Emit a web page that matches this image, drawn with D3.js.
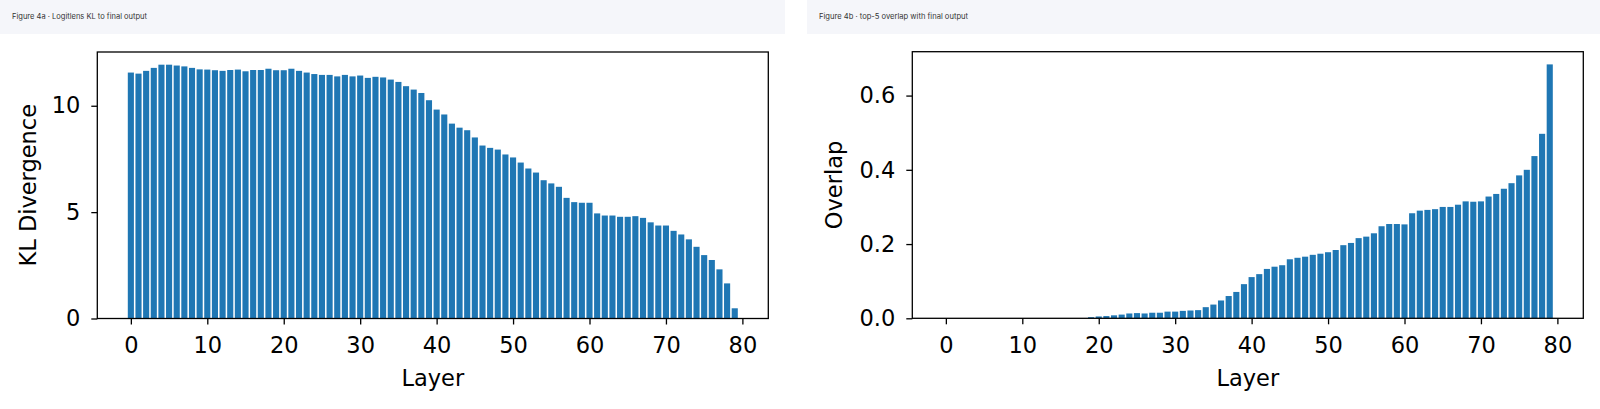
<!DOCTYPE html>
<html>
<head>
<meta charset="utf-8">
<script src="https://cdn.jsdelivr.net/npm/d3@7"></script>
<style>
  html, body { margin: 0; padding: 0; background: #fff; }
  svg { display: block; }
</style>
</head>
<body>
<div id="chart"></div>
<script>
// KL divergence of logit-lens output vs final output, per layer (0..79)
var klValues = [
  11.56, 11.51, 11.64, 11.78, 11.93, 11.93, 11.89, 11.85, 11.78, 11.71,
  11.70, 11.67, 11.64, 11.68, 11.70, 11.62, 11.68, 11.68, 11.74, 11.67,
  11.67, 11.74, 11.64, 11.56, 11.49, 11.45, 11.45, 11.38, 11.45, 11.38,
  11.42, 11.31, 11.36, 11.33, 11.23, 11.12, 10.92, 10.76, 10.60, 10.26,
  9.82, 9.59, 9.16, 8.97, 8.85, 8.51, 8.13, 8.02, 7.94, 7.71,
  7.57, 7.33, 7.05, 6.86, 6.50, 6.35, 6.19, 5.67, 5.47, 5.44,
  5.44, 4.94, 4.84, 4.84, 4.78, 4.78, 4.81, 4.73, 4.52, 4.37,
  4.37, 4.12, 3.95, 3.72, 3.37, 2.98, 2.75, 2.31, 1.65, 0.48
];

// top-5 overlap with final output, per layer (0..79)
var overlapValues = [
  0, 0, 0, 0, 0, 0, 0, 0, 0, 0,
  0, 0, 0, 0, 0, 0, 0, 0, 0, 0.003,
  0.005, 0.006, 0.008, 0.010, 0.013, 0.014, 0.013, 0.015, 0.015, 0.018,
  0.018, 0.020, 0.021, 0.022, 0.030, 0.037, 0.048, 0.060, 0.071, 0.092,
  0.111, 0.119, 0.133, 0.139, 0.143, 0.159, 0.163, 0.166, 0.171, 0.174,
  0.178, 0.184, 0.197, 0.203, 0.216, 0.220, 0.229, 0.248, 0.254, 0.254,
  0.253, 0.283, 0.290, 0.292, 0.294, 0.300, 0.300, 0.306, 0.315, 0.314,
  0.315, 0.328, 0.335, 0.349, 0.364, 0.385, 0.400, 0.437, 0.497, 0.684
];

var layerTicks = [0, 10, 20, 30, 40, 50, 60, 70, 80];
var klTicks = [0, 5, 10];
var overlapTicks = [0.0, 0.2, 0.4, 0.6];

var width = 1600,
    height = 409;

var svg = d3.select("#chart").append("svg")
    .attr("width", width)
    .attr("height", height);

var font = "DejaVu Sans, sans-serif";

// header strips
function header(x0, x1, title, textW) {
    svg.append("rect")
        .attr("x", x0).attr("y", 0)
        .attr("width", x1 - x0).attr("height", 34)
        .attr("fill", "#f5f6fa");
    svg.append("text")
        .attr("x", x0 + 12).attr("y", 19)
        .attr("font-family", "Inter, Roboto, sans-serif")
        .attr("font-size", 7.5)
        .attr("fill", "#333")
        .attr("textLength", textW)
        .attr("lengthAdjust", "spacingAndGlyphs")
        .text(title);
}

header(0, 785, "Figure 4a · Logitlens KL to final output", 135);
header(807, 1600, "Figure 4b · top-5 overlap with final output", 149);

function barChart(opts) {
    var values = opts.values;
    var n = values.length;

    // matplotlib-style limits: bars of width 0.8, 5% margins
    var x = d3.scaleLinear()
        .domain([-0.4 - 0.05 * (n - 0.2), n - 0.6 + 0.05 * (n - 0.2)])
        .range([opts.left, opts.right]);

    var y = d3.scaleLinear()
        .domain([0, d3.max(values) * 1.05])
        .range([opts.bottom, opts.top]);

    var g = svg.append("g");

    g.selectAll("rect.bar")
        .data(values)
        .enter().append("rect")
        .attr("class", "bar")
        .attr("x", function (d, i) { return x(i - 0.4); })
        .attr("width", x(0.8) - x(0))
        .attr("y", function (d) { return y(d); })
        .attr("height", function (d) { return y(0) - y(d); })
        .attr("fill", "#1f77b4");

    var xAxis = g.append("g")
        .attr("transform", "translate(0," + opts.bottom + ")")
        .call(d3.axisBottom(x).tickValues(layerTicks).tickSize(6).tickSizeOuter(0).tickPadding(13));

    var yAxis = g.append("g")
        .attr("transform", "translate(" + opts.left + ",0)")
        .call(d3.axisLeft(y).tickValues(opts.ticks).tickFormat(opts.format)
            .tickSize(6).tickSizeOuter(0).tickPadding(11));

    [xAxis, yAxis].forEach(function (a) {
        a.select(".domain").remove();
        a.selectAll(".tick line").attr("stroke", "#000").attr("stroke-width", 1.3);
        a.selectAll(".tick text")
            .attr("fill", "#000")
            .attr("font-family", font)
            .attr("font-size", 22.5);
    });

    // spines
    g.append("rect")
        .attr("x", opts.left).attr("y", opts.top)
        .attr("width", opts.right - opts.left)
        .attr("height", opts.bottom - opts.top)
        .attr("fill", "none")
        .attr("stroke", "#000")
        .attr("stroke-width", 1.3);

    g.append("text")
        .attr("x", (opts.left + opts.right) / 2)
        .attr("y", 386)
        .attr("text-anchor", "middle")
        .attr("font-family", font)
        .attr("font-size", 22.5)
        .attr("fill", "#000")
        .text("Layer");

    g.append("text")
        .attr("transform", "translate(" + opts.labelX + "," + (opts.top + opts.bottom) / 2 + ") rotate(-90)")
        .attr("text-anchor", "middle")
        .attr("font-family", font)
        .attr("font-size", 22.5)
        .attr("fill", "#000")
        .text(opts.label);
}

barChart({
    values: klValues,
    left: 97.3, right: 768.3, top: 52, bottom: 318.5,
    ticks: klTicks,
    format: d3.format("d"),
    label: "KL Divergence",
    labelX: 36
});

barChart({
    values: overlapValues,
    left: 912.3, right: 1583.3, top: 51.7, bottom: 318.3,
    ticks: overlapTicks,
    format: d3.format(".1f"),
    label: "Overlap",
    labelX: 842
});
</script>
</body>
</html>
